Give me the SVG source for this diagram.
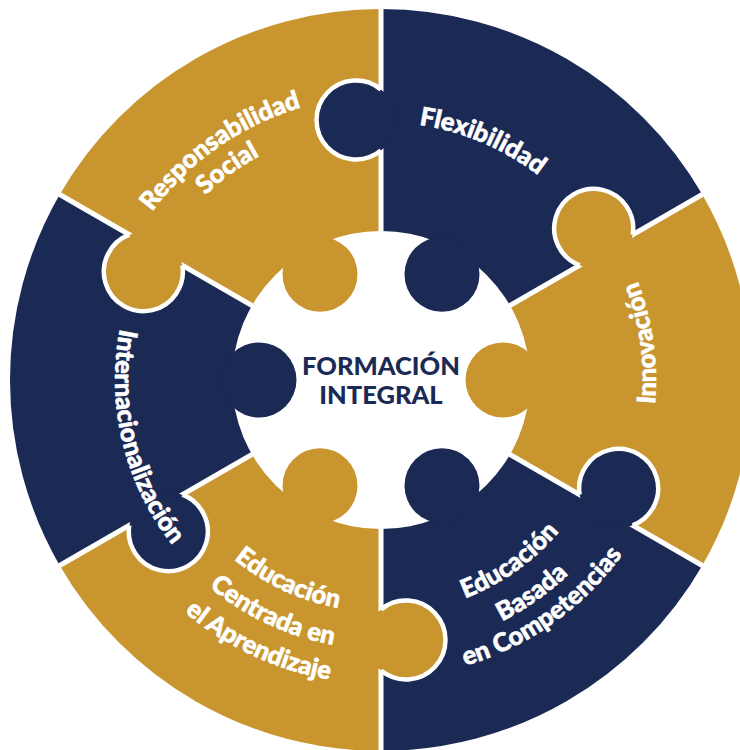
<svg xmlns="http://www.w3.org/2000/svg" width="740" height="750" viewBox="0 0 740 750">
  <style>
    .navy { fill: #1b2a55; }
    .gold { fill: #c8952f; }
    .divider { stroke: #ffffff; stroke-width: 5; fill: none; }
    .tab-outline { stroke: #ffffff; stroke-width: 4.5; fill: none; }
    .label { font-family: Lato, "Open Sans", "DejaVu Sans", sans-serif; font-weight: 900; font-size: 25.5px; fill: #ffffff; stroke: #ffffff; stroke-width: 0.6px; }
    .title { font-family: Lato, "Open Sans", "DejaVu Sans", sans-serif; font-weight: 900; font-size: 25.5px; fill: #1b2a55; text-anchor: middle; }
  </style>
  <defs>
    <path id="p-flex" d="M225.7,174 A258,258 0 0 1 637.1,348.6"/>
    <path id="p-resp" d="M98.1,404.8 A284,284 0 0 1 501,122.6"/>
    <path id="p-soc" d="M127.4,406.7 A255,255 0 0 1 484.7,147.1"/>
    <path id="p-inter" d="M197.6,187.4 A266,266 0 0 0 305.9,635.2"/>
    <path id="p-inno" d="M550.3,596.7 A275,275 0 0 0 484,125"/>
    <path id="p-ec1" d="M149.9,400.2 A232,232 0 0 0 514.1,570.1"/>
    <path id="p-ec2" d="M113,403.5 A269,269 0 0 0 535.3,600.4"/>
    <path id="p-ec3" d="M78.2,406.5 A304,304 0 0 0 555.4,629"/>
    <path id="p-eb1" d="M283.2,592.6 A234,234 0 0 0 614,358.4"/>
    <path id="p-eb2" d="M268.2,625.3 A270,270 0 0 0 649.8,355.1"/>
    <path id="p-eb3" d="M256.5,650.7 A298,298 0 0 0 677.7,352.5"/>
    <g id="outer-tab-shape">
      <circle cx="356" cy="120" r="39.5"/>
    </g>
    <path id="outer-tab-outline" d="M381,150.6 A39.5,39.5 0 1 1 381,89.4"/>
  </defs>

  <rect x="0" y="0" width="740" height="750" fill="#ffffff"/>

  <!-- sector backgrounds -->
  <g id="sectors">
    <path id="sector-flexibilidad" class="navy" d="M381,380 L702.3,194.5 A371,371 0 0 0 381,9 Z"/>
    <path id="sector-responsabilidad" class="gold" d="M381,380 L381,9 A371,371 0 0 0 59.7,194.5 Z"/>
    <path id="sector-internacionalizacion" class="navy" d="M381,380 L59.7,194.5 A371,371 0 0 0 59.7,565.5 Z"/>
    <path id="sector-centrada" class="gold" d="M381,380 L59.7,565.5 A371,371 0 0 0 381,751 Z"/>
    <path id="sector-competencias" class="navy" d="M381,380 L381,751 A371,371 0 0 0 702.3,565.5 Z"/>
    <path id="sector-innovacion" class="gold" d="M381,380 L702.3,565.5 A371,371 0 0 0 702.3,194.5 Z"/>
  </g>

  <!-- connectors: dividers and interlocking tabs -->
  <g id="connectors">
    <g id="dividers">
      <line class="divider" x1="381" y1="380" x2="381" y2="4"/>
      <line class="divider" x1="381" y1="380" x2="381" y2="4" transform="rotate(60 381 380)"/>
      <line class="divider" x1="381" y1="380" x2="381" y2="4" transform="rotate(120 381 380)"/>
      <line class="divider" x1="381" y1="380" x2="381" y2="4" transform="rotate(180 381 380)"/>
      <line class="divider" x1="381" y1="380" x2="381" y2="4" transform="rotate(240 381 380)"/>
      <line class="divider" x1="381" y1="380" x2="381" y2="4" transform="rotate(300 381 380)"/>
    </g>
    <g id="tab-1" class="navy">
      <use href="#outer-tab-shape"/>
      <use href="#outer-tab-outline" class="tab-outline"/>
    </g>
    <g id="tab-2" class="gold" transform="rotate(60 381 380)">
      <use href="#outer-tab-shape"/>
      <use href="#outer-tab-outline" class="tab-outline"/>
    </g>
    <g id="tab-3" class="navy" transform="rotate(120 381 380)">
      <use href="#outer-tab-shape"/>
      <use href="#outer-tab-outline" class="tab-outline"/>
    </g>
    <g id="tab-4" class="gold" transform="rotate(180 381 380)">
      <use href="#outer-tab-shape"/>
      <use href="#outer-tab-outline" class="tab-outline"/>
    </g>
    <g id="tab-5" class="navy" transform="rotate(240 381 380)">
      <use href="#outer-tab-shape"/>
      <use href="#outer-tab-outline" class="tab-outline"/>
    </g>
    <g id="tab-6" class="gold" transform="rotate(300 381 380)">
      <use href="#outer-tab-shape"/>
      <use href="#outer-tab-outline" class="tab-outline"/>
    </g>
  </g>

  <!-- central node -->
  <g id="node-formacion-integral">
    <circle cx="381" cy="380" r="149" fill="#ffffff"/>
    <circle class="gold" cx="503" cy="380" r="37.5"/>
    <circle class="navy" cx="442" cy="274.3" r="37.5"/>
    <circle class="gold" cx="320" cy="274.3" r="37.5"/>
    <circle class="navy" cx="259" cy="380" r="37.5"/>
    <circle class="gold" cx="320" cy="485.7" r="37.5"/>
    <circle class="navy" cx="442" cy="485.7" r="37.5"/>
    <text class="title" x="381" y="375">FORMACIÓN</text>
    <text class="title" x="381" y="404">INTEGRAL</text>
  </g>

  <g id="node-flexibilidad">
    <text class="label"><textPath href="#p-flex" startOffset="50%" text-anchor="middle">Flexibilidad</textPath></text>
  </g>
  <g id="node-responsabilidad-social">
    <text class="label"><textPath href="#p-resp" startOffset="50%" text-anchor="middle">Responsabilidad</textPath></text>
    <text class="label"><textPath href="#p-soc" startOffset="50%" text-anchor="middle">Social</textPath></text>
  </g>
  <g id="node-internacionalizacion">
    <text class="label"><textPath href="#p-inter" startOffset="50%" text-anchor="middle">Internacionalización</textPath></text>
  </g>
  <g id="node-innovacion">
    <text class="label"><textPath href="#p-inno" startOffset="50%" text-anchor="middle">Innovación</textPath></text>
  </g>
  <g id="node-educacion-centrada">
    <text class="label"><textPath href="#p-ec1" startOffset="50%" text-anchor="middle">Educación</textPath></text>
    <text class="label"><textPath href="#p-ec2" startOffset="50%" text-anchor="middle">Centrada en</textPath></text>
    <text class="label"><textPath href="#p-ec3" startOffset="50%" text-anchor="middle">el Aprendizaje</textPath></text>
  </g>
  <g id="node-educacion-competencias">
    <text class="label"><textPath href="#p-eb1" startOffset="50%" text-anchor="middle">Educación</textPath></text>
    <text class="label"><textPath href="#p-eb2" startOffset="50%" text-anchor="middle">Basada</textPath></text>
    <text class="label"><textPath href="#p-eb3" startOffset="50%" text-anchor="middle">en Competencias</textPath></text>
  </g>
</svg>
